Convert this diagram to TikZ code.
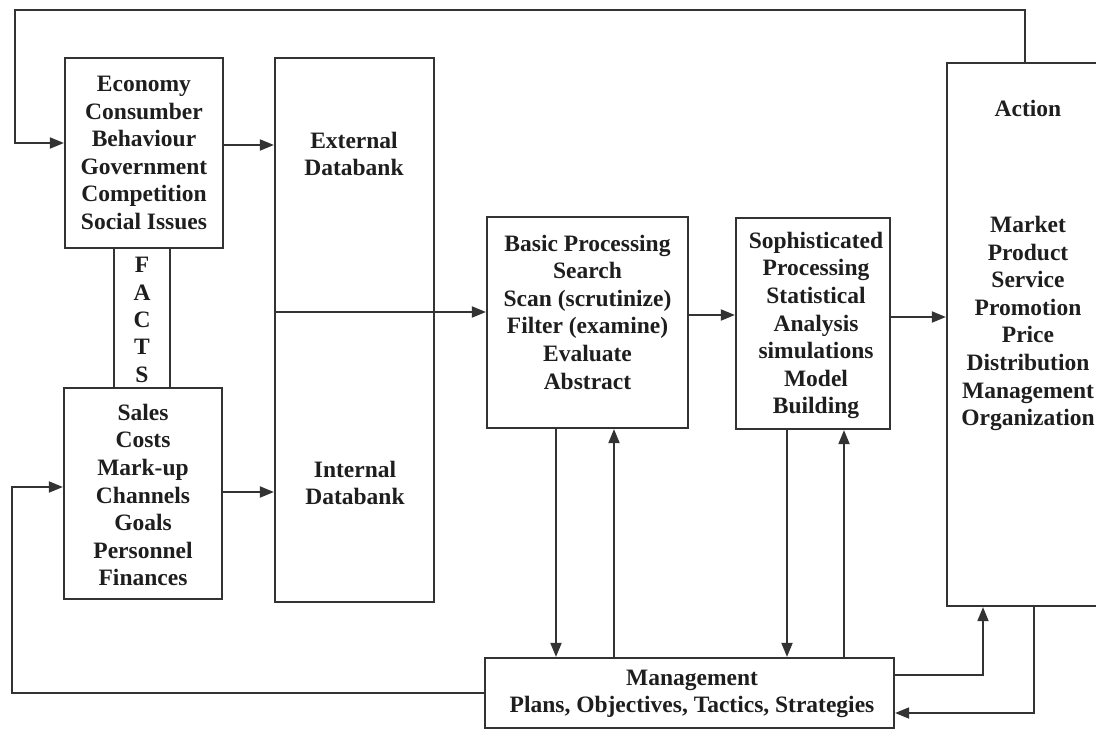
\documentclass[tikz,border=0pt]{standalone}
\usepackage{fontspec}
\setmainfont{Liberation Serif}
\usetikzlibrary{arrows.meta}
\definecolor{ink}{HTML}{333333}
\definecolor{textc}{HTML}{1E1E1E}
\begin{document}
\begin{tikzpicture}[x=1pt,y=-1pt,
  box/.style={draw=ink,line width=2.2pt,inner sep=0pt},
  lbl/.style={font=\fontsize{23.5}{27.6}\selectfont\bfseries,align=center,text=textc,inner sep=0pt},
  link/.style={draw=ink,line width=1.8pt},
  arr/.style={link,-{Triangle[length=14pt,width=11pt]}}]
\useasboundingbox (0,0) rectangle (1096,731);
\clip (0,0) rectangle (1096,731);

% boxes
\node[box,minimum width=158pt,minimum height=190pt] (econ) at (144,153) {};
\node[box,minimum width=158pt,minimum height=211pt] (sales) at (143,493.5) {};
\node[minimum width=56pt,minimum height=140pt,inner sep=0pt] (facts) at (142,318) {};
\node[box,minimum width=159pt,minimum height=544pt] (bank) at (354.5,330) {};
\node[box,minimum width=201pt,minimum height=211pt] (basic) at (587.5,322.5) {};
\node[box,minimum width=154pt,minimum height=211pt] (soph) at (813,323.5) {};
\node[box,minimum width=220pt,minimum height=543pt] (act) at (1057,334.5) {};
\node[box,minimum width=409pt,minimum height=70pt] (mgmt) at (689.5,693) {};

% texts
\node[lbl] (econT) at (144,153) {Economy\\Consumber\\Behaviour\\Government\\Competition\\Social Issues};
\node[lbl,font=\fontsize{23.5}{27.3}\selectfont\bfseries] (factsT) at (142,320) {F\\A\\C\\T\\S};
\node[lbl] (salesT) at (143,495) {Sales\\Costs\\Mark-up\\Channels\\Goals\\Personnel\\Finances};
\node[lbl] (extT) at (354,154) {External\\Databank};
\node[lbl] (intT) at (355,483) {Internal\\Databank};
\node[lbl] (basicT) at (587.5,312) {Basic Processing\\Search\\Scan (scrutinize)\\Filter (examine)\\Evaluate\\Abstract};
\node[lbl] (sophT) at (816,325.5) {Sophisticated\\Processing\\Statistical\\Analysis\\simulations\\Model\\Building};
\node[lbl] (actT) at (1028,108) {Action};
\node[lbl] (actL) at (1028,323.5) {Market\\Product\\Service\\Promotion\\Price\\Distribution\\Management\\Organization};
\node[lbl] (mgmtT) at (692,694) {Management\\Plans, Objectives, Tactics, Strategies};

% FACTS channel
\draw[link,line width=2.2pt] (facts.north west) -- (facts.south west);
\draw[link,line width=2.2pt] (facts.north east) -- (facts.south east);

% forward flow
\draw[arr] (econ.east |- 0,145) -- (bank.west |- 0,145);
\draw[arr] (sales.east |- 0,492) -- (bank.west |- 0,492);
\draw[arr] (bank.west |- 0,312) -- (basic.west |- 0,312);
\draw[arr] (basic.east |- 0,315) -- (soph.west |- 0,315);
\draw[arr] (soph.east |- 0,317) -- (act.west |- 0,317);

% management links
\draw[arr] (basic.south -| 556,0) -- (mgmt.north -| 556,0);
\draw[arr] (mgmt.north -| 614,0) -- (basic.south -| 614,0);
\draw[arr] (soph.south -| 787,0) -- (mgmt.north -| 787,0);
\draw[arr] (mgmt.north -| 844,0) -- (soph.south -| 844,0);
\draw[arr] (mgmt.east |- 0,675) -| (act.south -| 983,0);
\draw[arr] (act.south -| 1034,0) |- (mgmt.east |- 0,713);

% feedback loops
\draw[arr] (act.north -| 1025,0) -- (1025,10) -| (15,143) -- (econ.west |- 0,143);
\draw[arr] (mgmt.west |- 0,693) -| (12,487) -- (sales.west |- 0,487);
\end{tikzpicture}
\end{document}
